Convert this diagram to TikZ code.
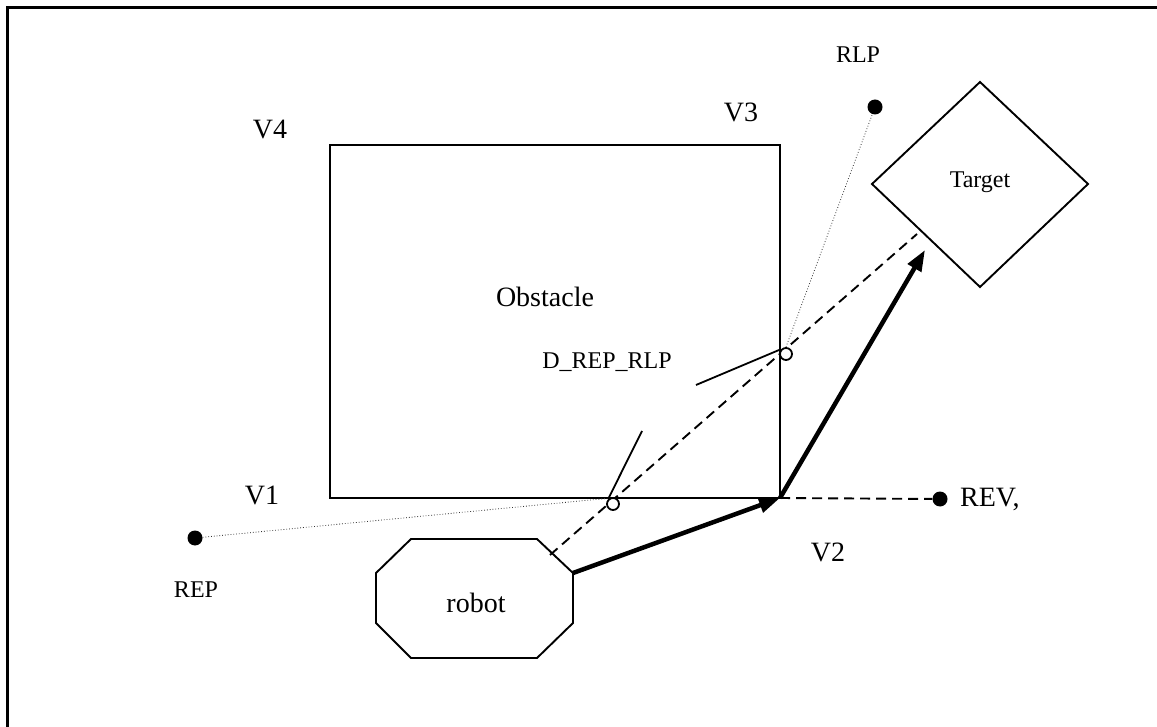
\documentclass[tikz,border=0pt]{standalone}
\usepackage{fontspec}
\setmainfont{Liberation Serif}
\usetikzlibrary{arrows.meta,shapes.geometric}
\begin{document}
\begin{tikzpicture}[x=1pt,y=-1pt,
  big/.style={font=\fontsize{28}{30}\selectfont, inner sep=0pt},
  small/.style={font=\fontsize{24}{26}\selectfont, inner sep=0pt},
  dot/.style={circle, fill=black, inner sep=0pt, minimum size=15pt},
  hole/.style={circle, draw=black, fill=white, line width=1.8pt, inner sep=0pt, minimum size=12pt},
  edge/.style={line width=1.9pt},
  guide/.style={line width=1.9pt, dash pattern=on 10pt off 6pt},
  sight/.style={line width=0.8pt, dotted, black!80},
  move/.style={line width=4.5pt, -{Triangle[length=21pt,width=15pt]}}]
\useasboundingbox (0,0) rectangle (1157,727);
% frame
\draw[line width=3pt] (7,727) -- (7,8) -- (1157,8);

% obstacle
\draw[edge] (330,145) rectangle (780,498);
\coordinate (v2c) at (780,498);
\node[big] (obs) at (545,297) {Obstacle};
\node[big] (v4) at (270,130) {V4};
\node[big] (v3) at (741,112) {V3};
\node[big] (v1) at (262,495) {V1};
\node[big] (v2) at (828,552) {V2};

% target
\draw[edge] (980,82) -- (1088,184) -- (980,287) -- (872,184) -- cycle;
\node[small] (tgt) at (980,182) {Target};
\coordinate (tgtTip) at (925,250);
\coordinate (tgtEdge) at (917,234);

% robot
\draw[edge] (411,539) -- (537,539) -- (573,573) coordinate (rc) -- (573,623) -- (537,658)
  -- (411,658) -- (376,623) -- (376,573) -- cycle;
\node[big] (robot) at (476,603) {robot};
\coordinate (rd) at (550,555);

% endpoints
\node[dot] (rep) at (195,538) {};
\node[small] (replab) at (196,590) {REP};
\node[dot] (rlp) at (875,107) {};
\node[small] (rlplab) at (858,55) {RLP};
\node[dot] (rev) at (940,499) {};
\node[big, anchor=west] (revlab) at (960,499) {REV,};

% line of sight and its crossings
\coordinate (h1) at (611,498);
\coordinate (h2) at (786,347);
\draw[sight] (rep) -- (h1);
\draw[sight] (h2) -- (rlp);
\draw[guide] (rd) -- (tgtEdge);
\draw[guide] (v2c) -- (rev);
\node[hole] (c1) at (613,504) {};
\node[hole] (c2) at (786,354) {};

% distance label with leaders
\node[small] (d) at (607,362) {D\_REP\_RLP};
\coordinate (l1a) at (696,385);
\coordinate (l2a) at (642,431);
\draw[line width=1.8pt] (l1a) -- (c2.north west);
\draw[line width=1.8pt] (l2a) -- (c1.north west);

% robot path
\draw[move] (rc) -- (v2c);
\draw[move] (v2c) -- (tgtTip);
\end{tikzpicture}
\end{document}
